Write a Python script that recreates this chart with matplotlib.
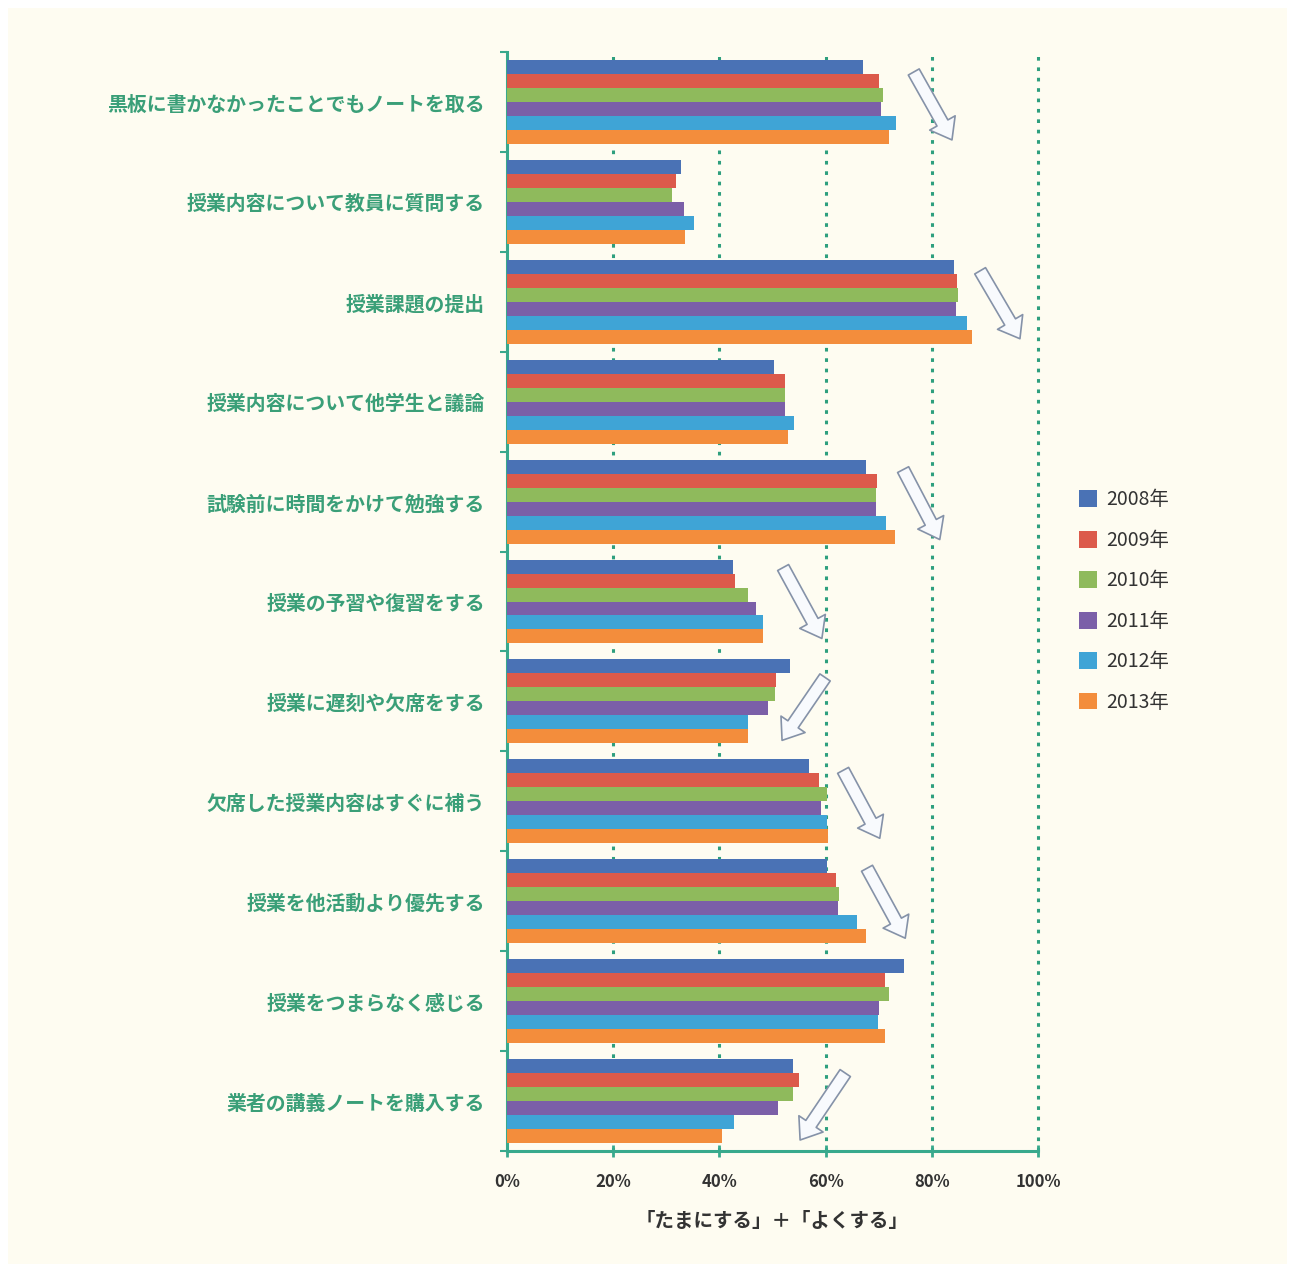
import matplotlib
matplotlib.use("Agg")
import matplotlib.pyplot as plt
import numpy as np
from matplotlib.patches import Rectangle

plt.rcParams['font.family'] = ['Noto Sans CJK JP', 'DejaVu Sans']

# 項目（上から順）
categories = [
    '黒板に書かなかったことでもノートを取る',
    '授業内容について教員に質問する',
    '授業課題の提出',
    '授業内容について他学生と議論',
    '試験前に時間をかけて勉強する',
    '授業の予習や復習をする',
    '授業に遅刻や欠席をする',
    '欠席した授業内容はすぐに補う',
    '授業を他活動より優先する',
    '授業をつまらなく感じる',
    '業者の講義ノートを購入する',
]
years = ['2008年', '2009年', '2010年', '2011年', '2012年', '2013年']

# 「たまにする」＋「よくする」の割合（%）
v2008 = [67.0, 32.8, 84.2, 50.2, 67.7, 42.5, 53.3, 56.8, 60.3, 74.8, 53.8]
v2009 = [70.1, 31.9, 84.7, 52.3, 69.7, 43.0, 50.6, 58.8, 62.0, 71.1, 55.0]
v2010 = [70.9, 31.1, 85.0, 52.3, 69.4, 45.4, 50.4, 60.3, 62.5, 72.0, 53.8]
v2011 = [70.4, 33.4, 84.5, 52.3, 69.4, 46.9, 49.2, 59.2, 62.3, 70.1, 51.0]
v2012 = [73.2, 35.2, 86.6, 54.0, 71.4, 48.2, 45.3, 60.3, 66.0, 69.9, 42.7]
v2013 = [72.0, 33.6, 87.6, 53.0, 73.0, 48.2, 45.3, 60.5, 67.7, 71.2, 40.5]
series = [v2008, v2009, v2010, v2011, v2012, v2013]

colors = ['#4a72b5', '#dc5a4b', '#8fba5c', '#7b5fa8', '#3fa4d6', '#f38d3c']

# 傾向を示す矢印 (根元, 先端) データ座標
trend_arrows = [
    ((76.6, -0.30), (83.8, 0.38)),
    ((89.1, 1.69), (96.6, 2.37)),
    ((74.6, 3.68), (81.5, 4.38)),
    ((52.0, 4.66), (59.3, 5.37)),
    ((59.9, 5.76), (51.8, 6.39)),
    ((63.3, 6.69), (70.2, 7.37)),
    ((67.8, 7.67), (75.0, 8.37)),
    ((63.7, 9.72), (55.2, 10.39)),
]

teal = '#38a98c'
label_green = '#3a9f78'
bg = '#fefcf1'

fig = plt.figure(figsize=(12.95, 12.72), dpi=100)
fig.patch.set_facecolor('white')
fig.patches.append(Rectangle((8 / 1295, 8 / 1272), 1 - 16 / 1295, 1 - 16 / 1272,
                             transform=fig.transFigure, facecolor=bg,
                             edgecolor='none', zorder=-10))

ax = fig.add_axes([507 / 1295, 1 - 1151 / 1272, 531 / 1295, 1099 / 1272])
ax.set_facecolor('none')

n = len(years)
bar_h = 0.14
y = np.arange(len(categories))
for i, (vals, c, yr) in enumerate(zip(series, colors, years)):
    offs = (i - (n - 1) / 2) * bar_h
    ax.barh(y + offs, vals, height=bar_h, color=c, edgecolor='none',
            label=yr, zorder=3)

ax.set_xlim(0, 100)
ax.set_ylim(len(categories) - 0.5, -0.5)

# 縦の点線グリッド
for gx in [20, 40, 60, 80, 100]:
    ax.axvline(gx, color='#2e9f7e', lw=2.2, linestyle=(0, (1.2, 2.2)),
               zorder=1, clip_on=False)

ax.set_xticks([0, 20, 40, 60, 80, 100])
ax.set_xticklabels(['0%', '20%', '40%', '60%', '80%', '100%'],
                   fontsize=12, color='#333333', fontweight='bold')
ax.tick_params(axis='x', direction='inout', length=8, width=2, color=teal, pad=12)

ax.set_yticks(y)
ax.set_yticklabels(categories, fontsize=14.3, color=label_green, fontweight='bold')
ax.tick_params(axis='y', which='major', length=0, pad=16)
ax.set_yticks(np.arange(-0.5, len(categories)), minor=True)
ax.tick_params(axis='y', which='minor', direction='out', length=5, width=1.5, color=teal)

for s in ['top', 'right']:
    ax.spines[s].set_visible(False)
for s in ['left', 'bottom']:
    ax.spines[s].set_color(teal)
    ax.spines[s].set_linewidth(2.2)

ax.set_xlabel('「たまにする」＋「よくする」', fontsize=14, color='#333333',
              fontweight='bold', labelpad=15)

for tail, tip in trend_arrows:
    ax.annotate('', xy=tip, xytext=tail, zorder=5,
                arrowprops=dict(arrowstyle='simple,head_length=14,head_width=21,tail_width=9',
                                mutation_scale=1, shrinkA=0, shrinkB=0,
                                fc='#f8fafd', ec='#8592a8', lw=1.2))

fig.legend(loc='upper left', bbox_to_anchor=(1061 / 1295, 1 - 472 / 1272),
           frameon=False, fontsize=14, handlelength=0.95, handleheight=0.95,
           labelspacing=1.0, handletextpad=0.45, labelcolor='#333333')

fig.savefig('out.png', dpi=100, facecolor=fig.get_facecolor())
